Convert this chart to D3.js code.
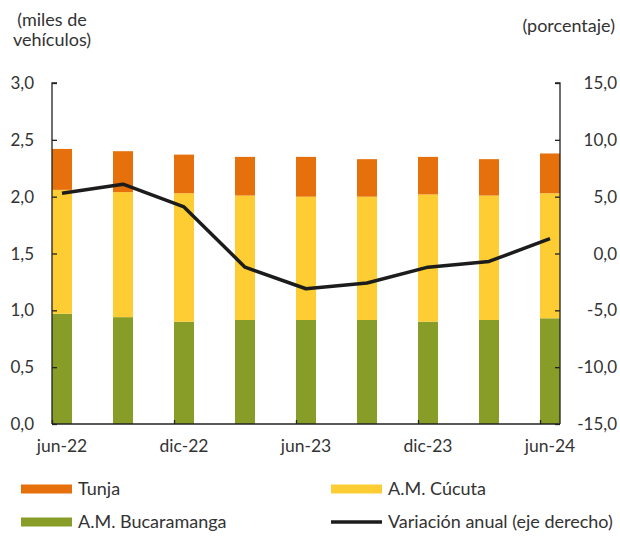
<!DOCTYPE html>
<html lang="es">
<head>
<meta charset="UTF-8">
<title>Vehículos</title>
<style>
  body { margin: 0; background: #fff; }
  svg { font-family: "Lato", "Open Sans", sans-serif; }
</style>
</head>
<body>
<div id="chart"></div>
<script src="https://cdn.jsdelivr.net/npm/d3@7"></script>
<script>
const categories = ["jun-22", "sep-22", "dic-22", "mar-23", "jun-23", "sep-23", "dic-23", "mar-24", "jun-24"];
const tickLabels = ["jun-22", "dic-22", "jun-23", "dic-23", "jun-24"];
const bucaramanga = [0.97, 0.94, 0.90, 0.915, 0.915, 0.915, 0.90, 0.915, 0.93];
const cucuta = [1.09, 1.10, 1.13, 1.095, 1.085, 1.085, 1.12, 1.095, 1.10];
const tunja = [0.36, 0.36, 0.34, 0.34, 0.35, 0.33, 0.33, 0.32, 0.35];
const variacion = [5.3, 6.1, 4.1, -1.2, -3.1, -2.6, -1.2, -0.7, 1.3];
const leftTicks = [0, 0.5, 1, 1.5, 2, 2.5, 3];
const rightTicks = [-15, -10, -5, 0, 5, 10, 15];

const W = 620, H = 536;
const plotL = 52, plotR = 560, plotT = 83, plotB = 424;
const bw = 20;
const colors = { tunja: "#E6700B", cucuta: "#FECD34", buc: "#879D27", line: "#1c1c1c", axis: "#222" };
const textColor = "#333";

const svg = d3.select("#chart").append("svg")
  .attr("width", W)
  .attr("height", H);

const x = d3.scalePoint()
  .domain(categories)
  .range([plotL + bw / 2, plotR - bw / 2]);
const y = d3.scaleLinear().domain([0, 3]).range([plotB, plotT]);
const y2 = d3.scaleLinear().domain([-15, 15]).range([plotB, plotT]);

const fmt = v => d3.format(".1f")(v).replace(".", ",").replace("−", "-");

// stacked bars
const rows = categories.map((c, i) => ({ cat: c, buc: bucaramanga[i], cucuta: cucuta[i], tunja: tunja[i] }));
const stack = d3.stack().keys(["buc", "cucuta", "tunja"]);
const layers = stack(rows);

svg.append("g").selectAll("g")
  .data(layers)
  .enter()
  .append("g")
  .attr("fill", d => colors[d.key])
  .selectAll("rect")
  .data(d => d)
  .enter()
  .append("rect")
  .attr("x", d => x(d.data.cat) - bw / 2)
  .attr("width", bw)
  .attr("y", d => y(d[1]))
  .attr("height", d => y(d[0]) - y(d[1]));

// line on the right axis
const line = d3.line()
  .x((d, i) => x(categories[i]))
  .y(d => y2(d));
svg.append("path")
  .datum(variacion)
  .attr("fill", "none")
  .attr("stroke", colors.line)
  .attr("stroke-width", 3.5)
  .attr("stroke-linejoin", "round")
  .attr("d", line);

// axes
const leftAxis = svg.append("g")
  .attr("transform", `translate(${plotL},0)`)
  .call(d3.axisRight(y).tickValues(leftTicks).tickSize(5).tickFormat(""));
const rightAxis = svg.append("g")
  .attr("transform", `translate(${plotR},0)`)
  .call(d3.axisLeft(y2).tickValues(rightTicks).tickSize(5).tickFormat(""));
const bottomAxis = svg.append("g")
  .attr("transform", `translate(0,${plotB})`)
  .call(d3.axisTop(d3.scaleLinear().domain([plotL, plotR]).range([plotL, plotR]))
    .tickValues(tickLabels.map(t => x(t) - bw / 2)).tickSize(4).tickFormat(""));
[leftAxis, rightAxis, bottomAxis].forEach(g => {
  g.selectAll("path.domain").attr("stroke", colors.axis).attr("stroke-width", 1.3);
  g.selectAll(".tick line").attr("stroke", colors.axis).attr("stroke-width", 1.3);
});
leftAxis.select("path.domain").attr("d", `M5,${plotT}H0V${plotB}`);
rightAxis.select("path.domain").attr("d", `M-5,${plotT}H0V${plotB}`);
bottomAxis.select("path.domain").attr("d", `M${plotL},0H${plotR}`);

// tick labels
svg.append("g").selectAll("text")
  .data(leftTicks)
  .enter()
  .append("text")
  .attr("x", 34)
  .attr("y", d => y(d))
  .attr("dy", "0.36em")
  .attr("text-anchor", "end")
  .attr("font-size", 17)
  .attr("fill", textColor)
  .text(fmt);
svg.append("g").selectAll("text")
  .data(rightTicks)
  .enter()
  .append("text")
  .attr("x", 617)
  .attr("y", d => y2(d))
  .attr("dy", "0.36em")
  .attr("text-anchor", "end")
  .attr("font-size", 17)
  .attr("fill", textColor)
  .text(fmt);
svg.append("g").selectAll("text")
  .data(tickLabels)
  .enter()
  .append("text")
  .attr("x", d => x(d))
  .attr("y", 452)
  .attr("text-anchor", "middle")
  .attr("font-size", 17.5)
  .attr("fill", textColor)
  .text(d => d);

// axis titles
svg.append("text").attr("x", 52).attr("y", 26).attr("text-anchor", "middle").attr("font-size", 18).attr("fill", textColor).text("(miles de");
svg.append("text").attr("x", 52).attr("y", 46).attr("text-anchor", "middle").attr("font-size", 18).attr("fill", textColor).text("vehículos)");
svg.append("text").attr("x", 615).attr("y", 32).attr("text-anchor", "end").attr("font-size", 18).attr("fill", textColor).text("(porcentaje)");

// legend
const legend = [
  { label: "Tunja", color: colors.tunja, type: "rect", lx: 21, ly: 489 },
  { label: "A.M. Cúcuta", color: colors.cucuta, type: "rect", lx: 331, ly: 489 },
  { label: "A.M. Bucaramanga", color: colors.buc, type: "rect", lx: 21, ly: 522 },
  { label: "Variación anual (eje derecho)", color: colors.line, type: "line", lx: 331, ly: 522 }
];
const lg = svg.append("g").selectAll("g")
  .data(legend)
  .enter()
  .append("g")
  .attr("transform", d => `translate(${d.lx},${d.ly})`);
lg.filter(d => d.type === "rect").append("rect")
  .attr("x", 0).attr("y", -4.5).attr("width", 51).attr("height", 9)
  .attr("fill", d => d.color);
lg.filter(d => d.type === "line").append("line")
  .attr("x1", 0).attr("x2", 51).attr("y1", 0).attr("y2", 0)
  .attr("stroke", d => d.color).attr("stroke-width", 3.5);
lg.append("text")
  .attr("x", 57)
  .attr("dy", "0.36em")
  .attr("font-size", 18)
  .attr("fill", textColor)
  .text(d => d.label);
</script>
</body>
</html>
